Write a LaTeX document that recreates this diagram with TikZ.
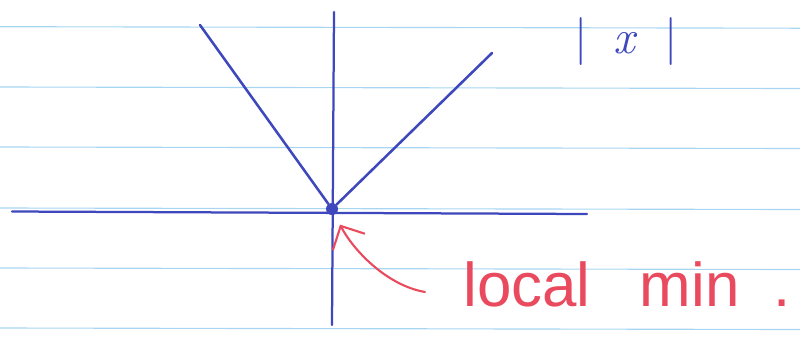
\documentclass[tikz,border=0pt]{standalone}
\usepackage{fontspec}
\setmainfont{Liberation Sans}
\newfontfamily\lmroman{Latin Modern Roman}
\usetikzlibrary{arrows.meta, positioning}
\definecolor{ink}{RGB}{62,72,188}
\definecolor{redpen}{RGB}{233,74,94}
\definecolor{ruling}{RGB}{168,214,242}

\begin{document}
\begin{tikzpicture}[
    x=0.025cm, y=-0.025cm,
    rule/.style={ruling, line width=0.8pt},
    axis/.style={ink, line width=1.6pt, line cap=round},
    graph/.style={ink, line width=1.8pt, line cap=round},
    dot/.style={circle, fill=ink, inner sep=0pt, minimum size=0.3cm},
    pointer/.style={-{Straight Barb[length=4.5mm, width=9mm]}, redpen, line width=1.5pt, line cap=round},
    note/.style={text=redpen, font=\fontsize{44}{48}\selectfont, inner sep=0pt},
    fname/.style={text=ink, font=\lmroman\fontsize{34}{38}\selectfont, inner sep=0pt},
]
\useasboundingbox (0,0) rectangle (800,338);

% Ruled paper
\foreach \y in {26.7,87,147,208,268,328}
    \draw[rule] (0,\y) -- (800,\y+1.5);

% Axes
\coordinate (xleft) at (12,211.5);
\coordinate (xright) at (587,214);
\coordinate (ytop) at (334,12);
\coordinate (ybot) at (332,325);
\draw[axis] (xleft) -- (xright);
\draw[axis] (ytop) -- (ybot);

% Graph of |x|
\coordinate (armleft) at (200,25);
\coordinate (armright) at (492,53);
\node[dot] (origin) at (332,209) {};
\draw[graph] (armleft) -- (origin) -- (armright);
\node[fname, anchor=base west] (absx) at (574,53) {|\hspace{0.55em}\textit{x}\hspace{0.55em}|};

% Minimum
\node[note, anchor=base west] (localmin) at (463,306) {local\hspace{0.8em}min\hspace{0.55em}.};
\coordinate (tail) at (425,292);
\draw[pointer, shorten >=8pt] (tail) .. controls (385,285) and (352,248) .. (origin);

\end{tikzpicture}
\end{document}
